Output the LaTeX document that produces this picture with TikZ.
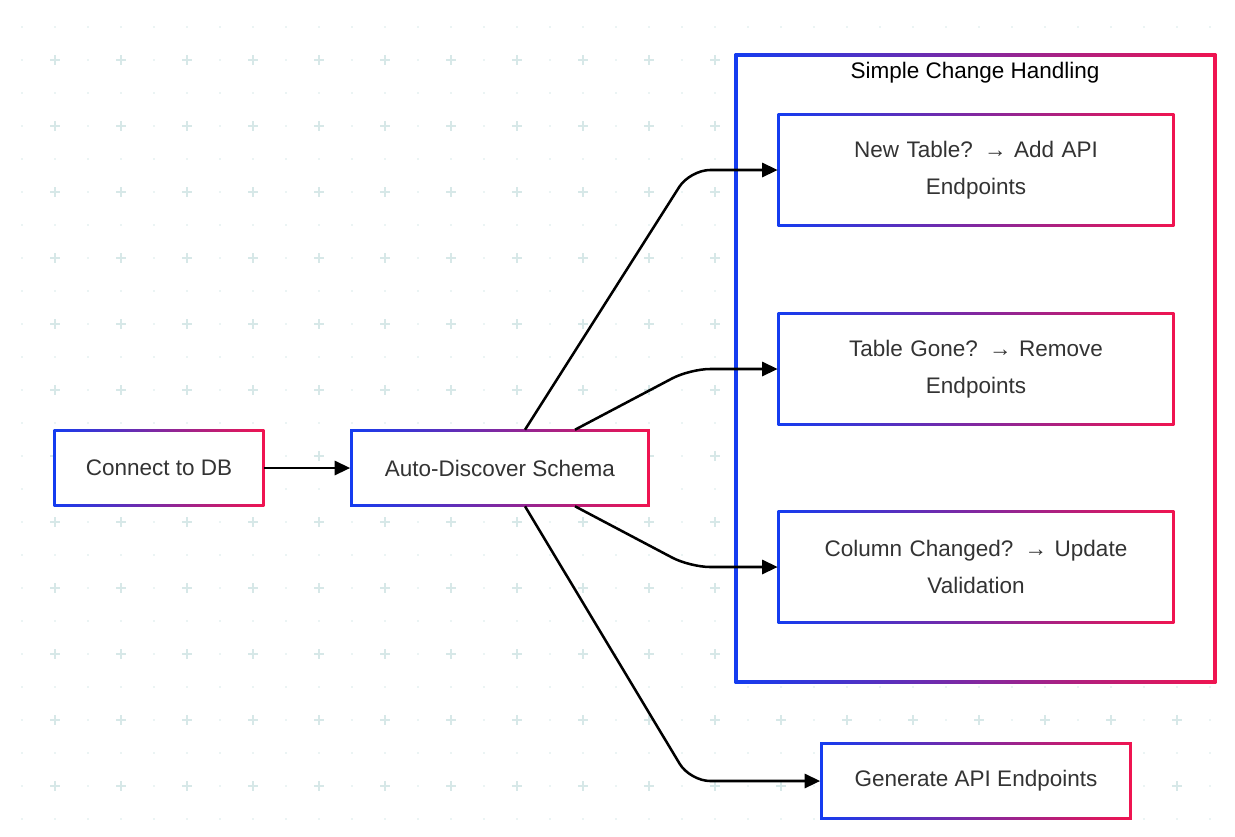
\documentclass[tikz,border=0pt]{standalone}
\usepackage{fontspec}
\setmainfont{Liberation Sans}
\usetikzlibrary{arrows.meta, backgrounds}
\definecolor{edgeblue}{RGB}{20,60,240}
\definecolor{edgered}{RGB}{240,20,80}
\definecolor{gridcol}{RGB}{215,232,232}
\tikzstyle{box} = [rectangle, minimum height=1.9cm, text centered, font=\fontsize{16}{26}\selectfont, text=black!80]
\tikzstyle{bigbox} = [box, minimum width=9.9cm, minimum height=2.825cm, text width=8.5cm]
\tikzstyle{arrow} = [line width=1.8pt, -{Triangle[length=11pt,width=10pt]}, rounded corners=0.5cm]
\newcommand{\gradedge}[2][1.8pt]{%
  \shade[left color=edgeblue, right color=edgered] (#2.south west) rectangle (#2.north east);
  \fill[white] ([shift={(#1,#1)}]#2.south west) rectangle ([shift={(-#1,-#1)}]#2.north east);}

\begin{document}
\begin{tikzpicture}[x=0.025cm, y=-0.025cm]
    \useasboundingbox (0,0) rectangle (1235,836);

    \node [rectangle, minimum width=12.025cm, minimum height=15.725cm] at (975.5,368.5) (cluster) {};
    \node [font=\fontsize{16}{20}\selectfont] at (975,73) (title) {Simple Change Handling};
    \node [box, minimum width=5.25cm] at (159,468) (connect) {Connect to DB};
    \node [box, minimum width=7.475cm] at (500,468) (discover) {Auto-Discover Schema};
    \node [bigbox] at (976,170) (newtable) {New Table? → Add API\\Endpoints};
    \node [bigbox] at (976,369) (gone) {Table Gone? → Remove\\Endpoints};
    \node [bigbox] at (976,567) (column) {Column Changed? → Update\\Validation};
    \node [box, minimum width=7.775cm, minimum height=1.925cm] at (976,781) (generate) {Generate API Endpoints};

    \begin{pgfonlayer}{background}
        % background pattern
        \foreach \i in {0,...,18} \foreach \j in {0,...,11}
            \draw[gridcol, line width=1pt] (50+66*\i,60+66*\j) -- ++(10,0) (55+66*\i,55+66*\j) -- ++(0,10);
        \foreach \i in {0,...,37} \foreach \j in {0,...,24}
            \fill[gridcol] (22+33*\i,27+33*\j) circle (0.6pt);
        \gradedge[2.5pt]{cluster}
        \gradedge{connect}
        \gradedge{discover}
        \gradedge{newtable}
        \gradedge{gone}
        \gradedge{column}
        \gradedge{generate}
    \end{pgfonlayer}

    \draw [arrow] (connect) -- (discover);
    \draw [arrow] ([xshift=0.625cm]discover.north) -- (690,170) -- (newtable.west);
    \draw [arrow] ([xshift=1.875cm]discover.north) -- (690,369) -- (gone.west);
    \draw [arrow] ([xshift=1.875cm]discover.south) -- (690,567) -- (column.west);
    \draw [arrow] ([xshift=0.625cm]discover.south) -- (690,781) -- (generate.west);
\end{tikzpicture}
\end{document}
